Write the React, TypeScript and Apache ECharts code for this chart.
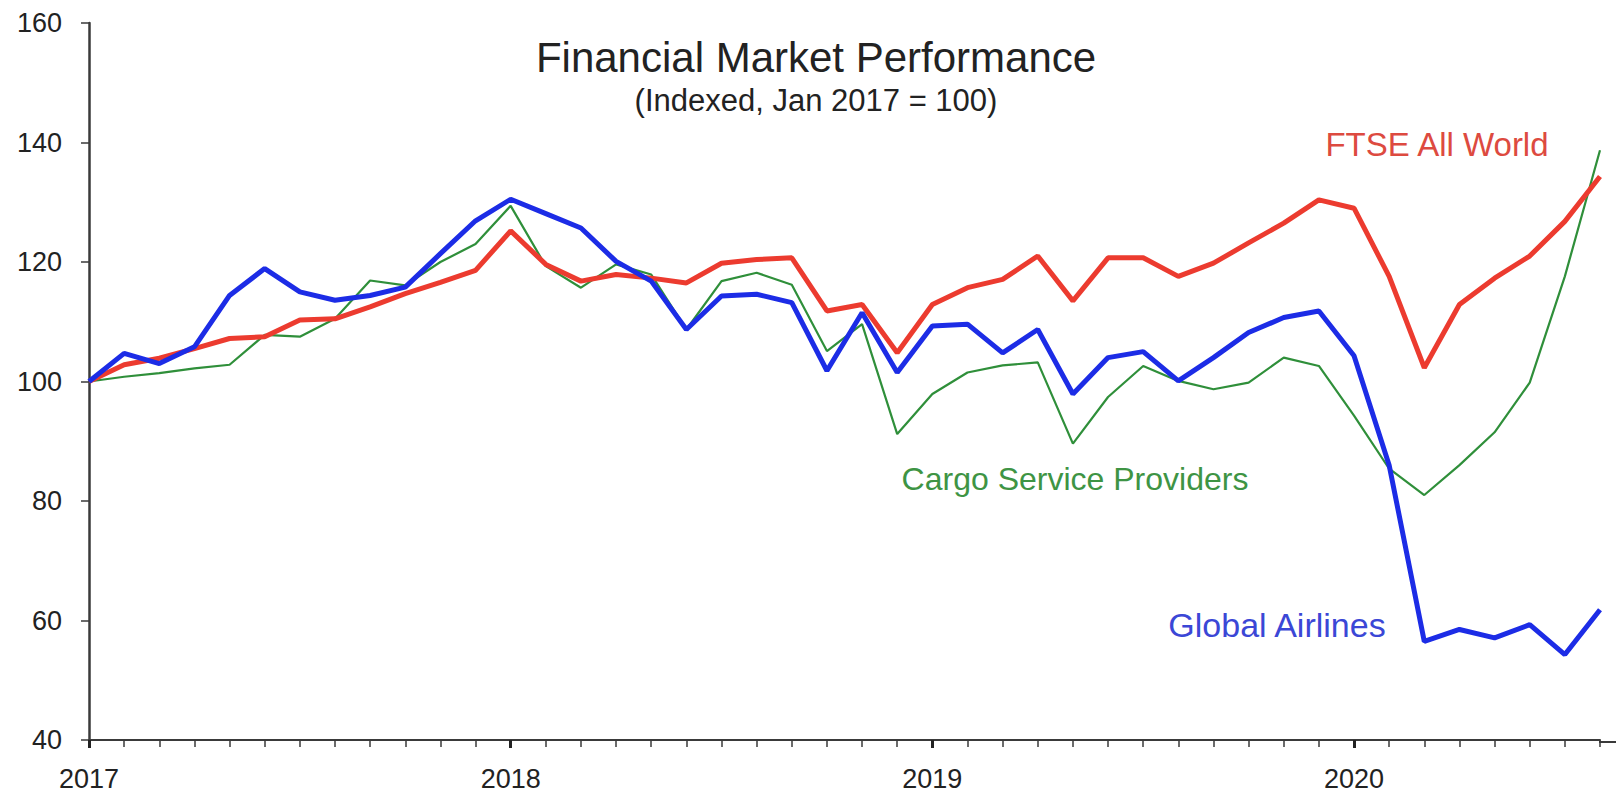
import { useEffect, useRef } from "react";
import * as echarts from "echarts";

const CATEGORIES = [
  "Jan 2017", "Feb 2017", "Mar 2017", "Apr 2017", "May 2017", "Jun 2017", "Jul 2017", "Aug 2017", "Sep 2017", "Oct 2017", "Nov 2017", "Dec 2017",
  "Jan 2018", "Feb 2018", "Mar 2018", "Apr 2018", "May 2018", "Jun 2018", "Jul 2018", "Aug 2018", "Sep 2018", "Oct 2018", "Nov 2018", "Dec 2018",
  "Jan 2019", "Feb 2019", "Mar 2019", "Apr 2019", "May 2019", "Jun 2019", "Jul 2019", "Aug 2019", "Sep 2019", "Oct 2019", "Nov 2019", "Dec 2019",
  "Jan 2020", "Feb 2020", "Mar 2020", "Apr 2020", "May 2020", "Jun 2020", "Jul 2020", "Aug 2020",
];

const GLOBAL_AIRLINES = [
  100, 104.7, 103.0, 105.8, 114.4, 118.9, 115.0, 113.6, 114.4, 115.8, 121.4, 126.9,
  130.5, 128.1, 125.7, 120.1, 116.8, 108.7, 114.3, 114.6, 113.2, 101.8, 111.5, 101.5,
  109.3, 109.6, 104.8, 108.7, 97.9, 104.0, 105.0, 100.1, 104.0, 108.2, 110.7, 111.8,
  104.3, 86.0, 56.5, 58.5, 57.1, 59.3, 54.3, 61.8,
];

const FTSE_ALL_WORLD = [
  100, 102.8, 103.9, 105.5, 107.2, 107.5, 110.3, 110.5, 112.5, 114.7, 116.6, 118.6,
  125.2, 119.6, 116.8, 117.9, 117.3, 116.5, 119.8, 120.4, 120.7, 111.8, 112.9, 104.8,
  112.9, 115.7, 117.1, 121.0, 113.5, 120.7, 120.7, 117.6, 119.8, 123.2, 126.5, 130.4,
  129.0, 117.6, 102.3, 112.9, 117.3, 121.0, 126.8, 134.3,
];

const CARGO_SERVICE_PROVIDERS = [
  100, 100.8, 101.4, 102.2, 102.8, 107.8, 107.5, 110.5, 116.9, 116.1, 120.0, 123.0,
  129.4, 119.3, 115.7, 119.6, 117.9, 108.7, 116.8, 118.2, 116.2, 105.1, 109.6, 91.2,
  97.9, 101.5, 102.7, 103.2, 89.6, 97.4, 102.6, 100.1, 98.7, 99.8, 104.0, 102.6,
  94.3, 85.4, 81.0, 86.0, 91.5, 99.8, 117.6, 138.7,
];

const Y_MIN = 40;
const Y_MAX = 160;
const Y_STEP = 20;

const TITLE = "Financial Market Performance";
const SUBTITLE = "(Indexed, Jan 2017 = 100)";
const NAME_FTSE = "FTSE All World";
const NAME_CARGO = "Cargo Service Providers";
const NAME_AIRLINES = "Global Airlines";

const FONT = '"Liberation Sans", Arial, sans-serif';
const AXIS_COLOR = "#3a3a3a";

function txt(text: string, x: number, y: number, size: number, fill: string) {
  return {
    type: "text",
    x,
    y,
    silent: true,
    style: {
      text,
      fill,
      font: `${size}px ${FONT}`,
      align: "center",
      verticalAlign: "middle",
      textAlign: "center",
      textVerticalAlign: "middle",
    },
  };
}

export default function App() {
  const ref = useRef<HTMLDivElement>(null);
  useEffect(() => {
    const chart = echarts.init(ref.current!, null, { renderer: "svg" });
    chart.setOption({
      animation: false,
      backgroundColor: "#ffffff",
      grid: { left: 89, right: 16, top: 23, bottom: 50 },
      xAxis: [
        {
          type: "category",
          data: CATEGORIES,
          boundaryGap: false,
          axisLine: { show: true, lineStyle: { color: AXIS_COLOR, width: 2 } },
          axisTick: { show: true, interval: 0, length: 7, lineStyle: { color: AXIS_COLOR, width: 1.5 } },
          axisLabel: {
            interval: (i: number) => i % 12 === 0,
            formatter: (v: string) => v.split(" ")[1],
            fontSize: 27,
            fontFamily: FONT,
            color: "#222",
            margin: 25,
          },
          splitLine: { show: false },
        },
        {
          type: "category",
          data: CATEGORIES,
          boundaryGap: false,
          position: "bottom",
          axisLine: { show: false },
          axisTick: {
            show: true,
            interval: (i: number) => i % 12 === 0,
            length: 8,
            lineStyle: { color: "#222", width: 3 },
          },
          axisLabel: { show: false },
          splitLine: { show: false },
        },
      ],
      yAxis: {
        type: "value",
        min: Y_MIN,
        max: Y_MAX,
        interval: Y_STEP,
        axisLine: { show: true, lineStyle: { color: AXIS_COLOR, width: 2.5 } },
        axisTick: { show: true, length: 8, lineStyle: { color: AXIS_COLOR, width: 1.5 } },
        axisLabel: { fontSize: 27, fontFamily: FONT, color: "#222", margin: 27 },
        splitLine: { show: false },
      },
      series: [
        {
          name: NAME_CARGO,
          type: "line",
          data: CARGO_SERVICE_PROVIDERS,
          symbol: "none",
          lineStyle: { color: "#2f8f3a", width: 2.2 },
          z: 2,
        },
        {
          name: NAME_FTSE,
          type: "line",
          data: FTSE_ALL_WORLD,
          symbol: "none",
          lineStyle: { color: "#ec3b2f", width: 5 },
          z: 3,
        },
        {
          name: NAME_AIRLINES,
          type: "line",
          data: GLOBAL_AIRLINES,
          symbol: "none",
          lineStyle: { color: "#1c2ce6", width: 5 },
          z: 4,
        },
      ],
      graphic: [
        txt(TITLE, 816, 57, 42, "#222"),
        txt(SUBTITLE, 816, 100, 31, "#222"),
        txt(NAME_FTSE, 1437, 144, 33, "#dd4a40"),
        txt(NAME_CARGO, 1075, 479, 32, "#3e9444"),
        txt(NAME_AIRLINES, 1277, 625, 34, "#3b47d6"),
        {
          type: "line",
          silent: true,
          shape: { x1: 1599, y1: 742, x2: 1616, y2: 742 },
          style: { stroke: AXIS_COLOR, lineWidth: 2 },
        },
      ],
    });
    return () => chart.dispose();
  }, []);
  return (
    <div
      ref={ref}
      style={{ position: "fixed", left: 0, top: 0, width: 1616, height: 792, background: "#fff" }}
    />
  );
}
